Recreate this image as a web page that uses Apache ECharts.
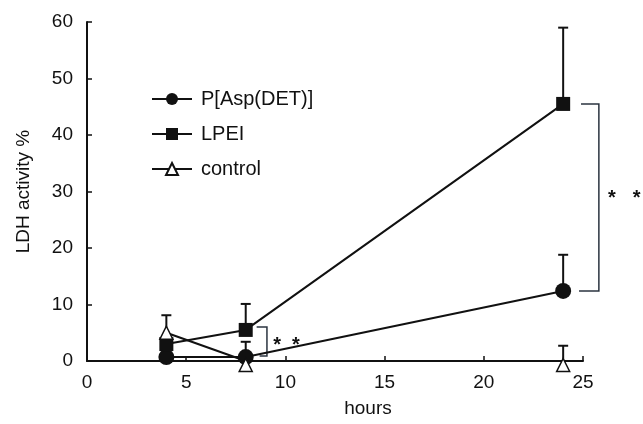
<!DOCTYPE html>
<html>
<head>
<meta charset="utf-8">
<script src="https://cdn.jsdelivr.net/npm/echarts@6/dist/echarts.min.js"></script>
<style>
  html, body { margin: 0; background: #fff; }
  #chart { width: 643px; height: 424px; }
</style>
</head>
<body>
<div id="chart"></div>
<script>
// values
const hours = [4, 8, 24]
const aspDet = [0.7, 0.7, 12.4]
const aspDetTop = [0.7, 3.4, 18.8]
const lpei = [3, 5.5, 45.5]
const lpeiTop = [3, 10.1, 59]
const control = [5, 0, 0]
const controlTop = [8.1, 0, 2.7]
const seriesNames = ['P[Asp(DET)]', 'LPEI', 'control']

// significance brackets: [x left top, x left bottom, x right, y top, y bottom]
const brackets = [
  [8.55, 8.7, 9.07, 6.0, 0.9],
  [24.9, 24.8, 25.8, 45.5, 12.4]
]
const stars = [[9.58, 3.5], [10.53, 3.5], [26.45, 29.4], [27.7, 29.4]]

const ink = '#111'
const font = 'Liberation Sans'

const chart = echarts.init(document.getElementById('chart'))

const errorBars = (id, vals, tops) => ({
  type: 'custom',
  name: id,
  z: 1,
  silent: true,
  data: hours.map((h, i) => [h, vals[i], tops[i]]).filter(d => d[2] > d[1]),
  renderItem: (params, api) => {
    const p = api.coord([api.value(0), api.value(1)])
    const t = api.coord([api.value(0), api.value(2)])
    return {
      type: 'group',
      children: [
        { type: 'line', shape: { x1: p[0], y1: p[1], x2: t[0], y2: t[1] }, style: { stroke: ink, lineWidth: 2 } },
        { type: 'line', shape: { x1: t[0] - 5, y1: t[1], x2: t[0] + 5, y2: t[1] }, style: { stroke: ink, lineWidth: 2 } }
      ]
    }
  }
})

// markers sitting on the x axis are drawn a little below it, as in the figure
const lineSeries = (name, vals, symbol, size, fill) => ({
  type: 'line',
  name,
  z: 3,
  clip: false,
  data: hours.map((h, i) => vals[i] === 0
    ? { value: [h, vals[i]], symbolOffset: [0, 4] }
    : [h, vals[i]]),
  symbol,
  symbolSize: size,
  showAllSymbol: true,
  lineStyle: { color: ink, width: 2 },
  itemStyle: { color: fill, borderColor: ink, borderWidth: fill === '#fff' ? 1.5 : 0 },
  emphasis: { disabled: true }
})

chart.setOption({
  animation: false,
  backgroundColor: '#fff',
  grid: { left: 87, right: 60, top: 22, bottom: 63 },
  legend: {
    data: seriesNames,
    orient: 'vertical',
    left: 146,
    top: 84,
    itemWidth: 40,
    itemHeight: 15,
    itemGap: 15,
    textStyle: { color: ink, fontFamily: font, fontSize: 20, padding: [0, 0, 0, 4] }
  },
  xAxis: {
    type: 'value',
    min: 0,
    max: 25,
    interval: 5,
    name: 'hours',
    nameLocation: 'middle',
    nameGap: 38,
    nameTextStyle: { color: ink, fontFamily: font, fontSize: 19, padding: [0, 0, 0, 66] },
    axisLine: { lineStyle: { color: ink, width: 2 } },
    axisTick: { inside: true, length: 5, lineStyle: { color: ink, width: 1.5 } },
    axisLabel: { color: ink, fontFamily: font, fontSize: 19, margin: 12 },
    splitLine: { show: false }
  },
  yAxis: {
    type: 'value',
    min: 0,
    max: 60,
    interval: 10,
    name: 'LDH activity %',
    nameLocation: 'middle',
    nameGap: 54,
    nameTextStyle: { color: ink, fontFamily: font, fontSize: 19 },
    axisLine: { show: true, lineStyle: { color: ink, width: 2 } },
    axisTick: { show: true, inside: true, length: 5, lineStyle: { color: ink, width: 1.5 } },
    axisLabel: { color: ink, fontFamily: font, fontSize: 19, margin: 14 },
    splitLine: { show: false }
  },
  series: [
    errorBars('errAsp', aspDet, aspDetTop),
    errorBars('errLpei', lpei, lpeiTop),
    errorBars('errControl', control, controlTop),
    lineSeries(seriesNames[0], aspDet, 'circle', 16, ink),
    lineSeries(seriesNames[1], lpei, 'rect', 14, ink),
    lineSeries(seriesNames[2], control, 'triangle', 13, '#fff'),
    {
      type: 'custom',
      name: 'brackets',
      z: 2,
      silent: true,
      data: brackets,
      renderItem: (params, api) => {
        const a = api.coord([api.value(0), api.value(3)])
        const b = api.coord([api.value(1), api.value(4)])
        const r = api.coord([api.value(2), api.value(3)])
        const rb = api.coord([api.value(2), api.value(4)])
        return {
          type: 'polyline',
          shape: { points: [a, r, rb, b] },
          style: { stroke: '#2b3440', lineWidth: 1.5, fill: null }
        }
      }
    },
    {
      type: 'custom',
      name: 'stars',
      z: 2,
      silent: true,
      data: stars,
      renderItem: (params, api) => {
        const p = api.coord([api.value(0), api.value(1)])
        return {
          type: 'text',
          x: p[0],
          y: p[1] + 4,
          style: { text: '*', fill: ink, font: 'bold 20px "Liberation Sans"', align: 'center', verticalAlign: 'middle' }
        }
      }
    }
  ]
})
</script>
</body>
</html>
